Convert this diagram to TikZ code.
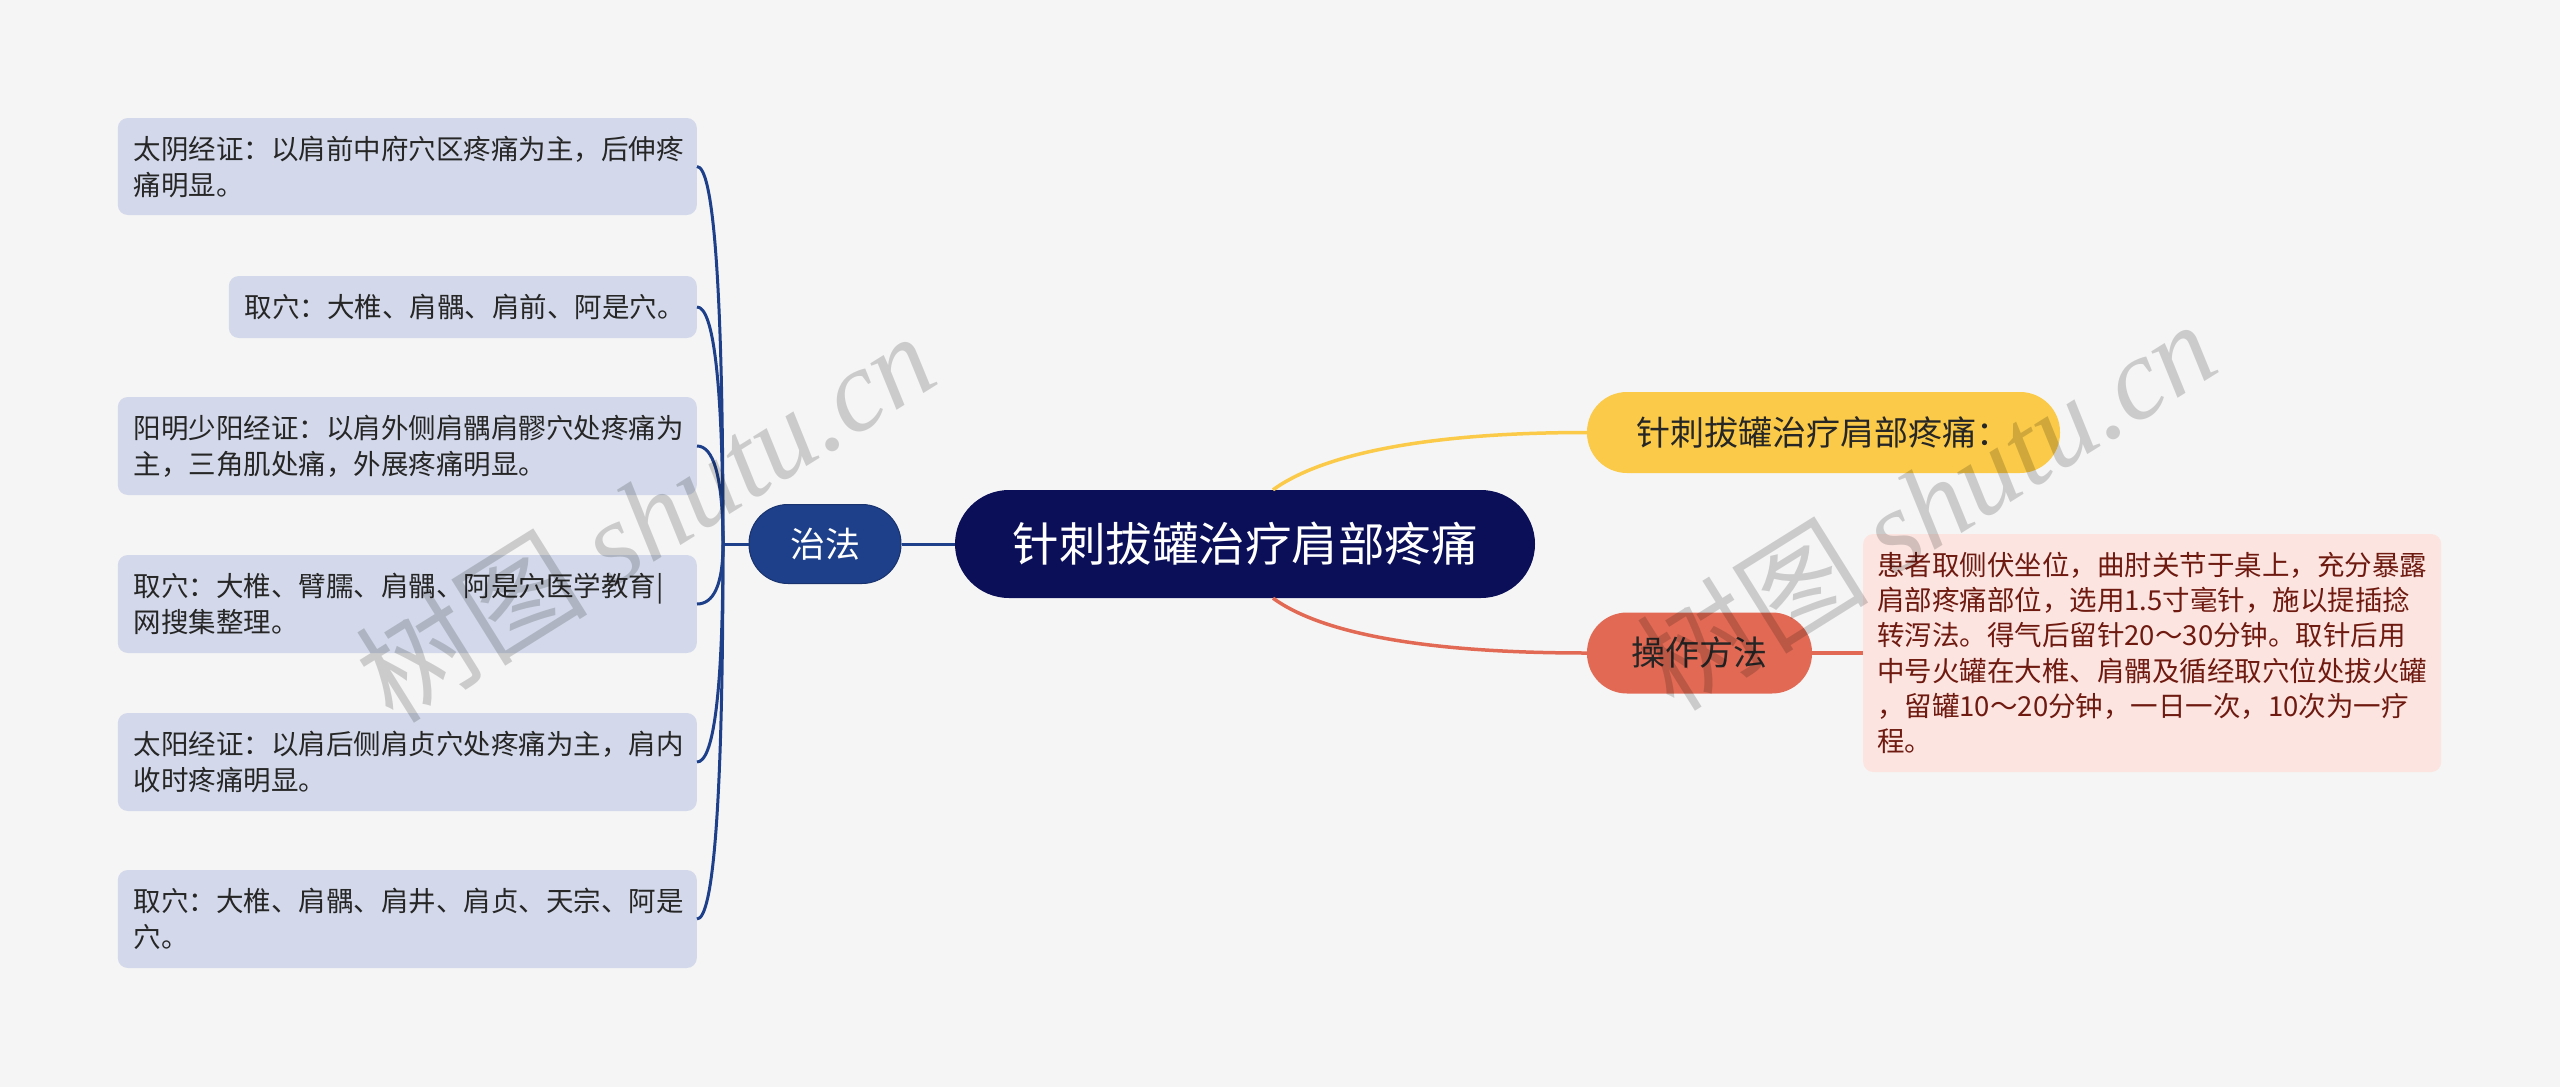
\documentclass[tikz,border=0pt]{standalone}
\usepackage{fontspec}
\setmainfont{Noto Sans CJK SC}
\newfontfamily\wmserif{Liberation Serif}
\newfontfamily\wmcjk{Noto Sans CJK SC}
\usetikzlibrary{calc}
\definecolor{bgc}{HTML}{F5F5F5}
\definecolor{rootc}{HTML}{0B0F58}
\definecolor{navyc}{HTML}{1E408A}
\definecolor{leafc}{HTML}{D3D9EA}
\definecolor{yellowc}{HTML}{FACA48}
\definecolor{orangec}{HTML}{E26A54}
\definecolor{pinkc}{HTML}{FCE4E0}
\definecolor{pinktext}{HTML}{6E1A10}
\definecolor{darktext}{HTML}{262626}
\begin{document}
\begin{tikzpicture}[x=1pt,y=-1pt,
  rootbox/.style={fill=rootc, text=white, rounded corners=54pt, minimum width=580pt, minimum height=108pt,
    inner sep=0pt, font=\fontsize{46.5pt}{54pt}\selectfont},
  subbox/.style={fill=navyc, draw=navyc!80!black, line width=1pt, text=white, rounded corners=39pt, minimum width=152pt,
    minimum height=79pt, inner sep=0pt, font=\fontsize{35pt}{40pt}\selectfont},
  pillbox/.style={text=darktext, rounded corners=40pt, minimum height=81pt, inner sep=0pt,
    font=\fontsize{34pt}{40pt}\selectfont},
  leafbox/.style={fill=leafc, text=darktext, rounded corners=10pt, inner xsep=16pt, inner ysep=0pt,
    align=left, anchor=east, font=\fontsize{27.5pt}{36pt}\selectfont},
  detailbox/.style={fill=pinkc, text=pinktext, rounded corners=10pt, inner xsep=14pt, inner ysep=0pt,
    align=left, anchor=west, text width=550pt, minimum height=238pt, font=\fontsize{27.5pt}{35.3pt}\selectfont},
  navyline/.style={draw=navyc, line width=3pt},
  watermark/.style={text=black, opacity=0.17, rotate=32, inner sep=0pt}
]
\useasboundingbox (0,0) rectangle (2560,1087);
\fill[bgc] (0,0) rectangle (2560,1087);

% nodes
\node[rootbox] (c) at (1245,544) {针刺拔罐治疗肩部疼痛};
\node[subbox] (zf) at (825,544) {治法};
\node[pillbox, fill=yellowc, minimum width=473pt] (y) at (1823.5,432.5) {针刺拔罐治疗肩部疼痛：};
\node[pillbox, fill=orangec, minimum width=225pt] (o) at (1699.5,653) {操作方法};
\node[detailbox] (d) at (1863,653) {患者取侧伏坐位，曲肘关节于桌上，充分暴露\\肩部疼痛部位，选用1.5寸毫针，施以提插捻\\转泻法。得气后留针20～30分钟。取针后用\\中号火罐在大椎、肩髃及循经取穴位处拔火罐\\，留罐10～20分钟，一日一次，10次为一疗\\程。};

\node[leafbox, text width=547pt, minimum height=97pt] (l1) at (697,166.5) {太阴经证：以肩前中府穴区疼痛为主，后伸疼\\痛明显。};
\node[leafbox, text width=436pt, minimum height=62pt] (l2) at (697,307) {取穴：大椎、肩髃、肩前、阿是穴。};
\node[leafbox, text width=547pt, minimum height=98pt] (l3) at (697,446) {阳明少阳经证：以肩外侧肩髃肩髎穴处疼痛为\\主，三角肌处痛，外展疼痛明显。};
\node[leafbox, text width=547pt, minimum height=98pt] (l4) at (697,604) {取穴：大椎、臂臑、肩髃、阿是穴医学教育|\\网搜集整理。};
\node[leafbox, text width=547pt, minimum height=98pt] (l5) at (697,762) {太阳经证：以肩后侧肩贞穴处疼痛为主，肩内\\收时疼痛明显。};
\node[leafbox, text width=547pt, minimum height=98pt] (l6) at (697,919) {取穴：大椎、肩髃、肩井、肩贞、天宗、阿是\\穴。};

\coordinate (hub) at (723,544);

% connectors
\draw[navyline] (zf.east) -- (c.west);
\draw[navyline] (zf.west) -- (hub);
\draw[navyline] (hub) .. controls +(0,-264) and +(16,0) .. (l1.east);
\draw[navyline] (hub) .. controls +(0,-166) and +(16,0) .. (l2.east);
\draw[navyline] (hub) .. controls +(0,-69) and +(16,0) .. (l3.east);
\draw[navyline] (hub) .. controls +(0,42) and +(16,0) .. (l4.east);
\draw[navyline] (hub) .. controls +(0,153) and +(16,0) .. (l5.east);
\draw[navyline] (hub) .. controls +(0,263) and +(16,0) .. (l6.east);

\draw[yellowc, line width=3.5pt] ([xshift=28pt]c.north) .. controls +(47,-34) and +(-167,0) .. (y.west);
\draw[orangec, line width=3.5pt] ([xshift=28pt]c.south) .. controls +(47,34) and +(-167,0) .. (o.west);
\draw[orangec, line width=3.5pt] (o.east) -- (d.west);

% watermarks
\node[watermark] (wm1) at (645,516) {\fontsize{116pt}{120pt}\selectfont\wmcjk 树图 \wmserif\itshape shutu.cn};
\node[watermark] (wm2) at (1926,504) {\fontsize{116pt}{120pt}\selectfont\wmcjk 树图 \wmserif\itshape shutu.cn};
\end{tikzpicture}
\end{document}
